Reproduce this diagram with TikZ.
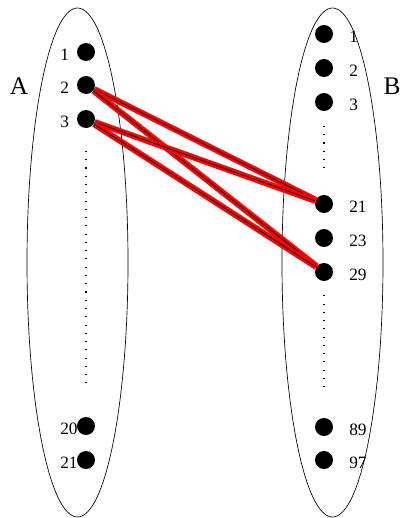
\documentclass[tikz,border=0pt]{standalone}
\usepackage{fontspec}
\setmainfont{Liberation Serif}
\usetikzlibrary{positioning}
\tikzset{
  setbound/.style={draw, line width=0.5pt},
  elem/.style={circle, fill=black, inner sep=0pt, minimum size=13.5pt},
  num/.style={font=\fontsize{13}{15}\selectfont, inner sep=0pt},
  setname/.style={font=\fontsize{19}{21}\selectfont, inner sep=0pt},
  gap/.style={line width=0.8pt, dash pattern=on 0.8pt off 5.4pt},
  link/.style={line width=0.6pt, preaction={draw=red, line width=4.5pt}}
}
\begin{document}
\begin{tikzpicture}[x=0.75pt, y=-0.75pt]
  \useasboundingbox (0,0) rectangle (401,518);
  % the two sets
  \draw[setbound] (77.5,262.5) ellipse [x radius=37.875pt, y radius=190.875pt];
  \draw[setbound] (332.5,262.5) ellipse [x radius=37.875pt, y radius=190.875pt];
  \node[setname] (setA) at (19,86) {A};
  \node[setname] (setB) at (392,86) {B};
  % elements of A
  \foreach \n/\y in {1/52,2/85,3/119,20/426,21/460} {
    \node[elem] (a\n) at (86,\y) {};
    \node[num, anchor=base west] (la\n) at (60,\y+8.5) {\n};
  }
  % elements of B
  \foreach \n/\y in {1/34,2/68,3/102,21/204,23/238,29/272,89/427,97/460} {
    \node[elem] (b\n) at (324,\y) {};
    \node[num, anchor=base west] (lb\n) at (349,\y+8.5) {\n};
  }
  % omitted elements
  \draw[gap, shorten <=17pt, shorten >=23pt] (a3.south) -- (a20.north);
  \draw[gap, shorten <=11pt, shorten >=20pt] (b3.south) -- (b21.north);
  \draw[gap, shorten <=10.5pt, shorten >=19pt] (b29.south) -- (b89.north);
  % links
  \draw[link] (a2) -- (b21);
  \draw[link] (a2) -- (b29);
  \draw[link] (a3) -- (b21);
  \draw[link] (a3) -- (b29);
\end{tikzpicture}
\end{document}
